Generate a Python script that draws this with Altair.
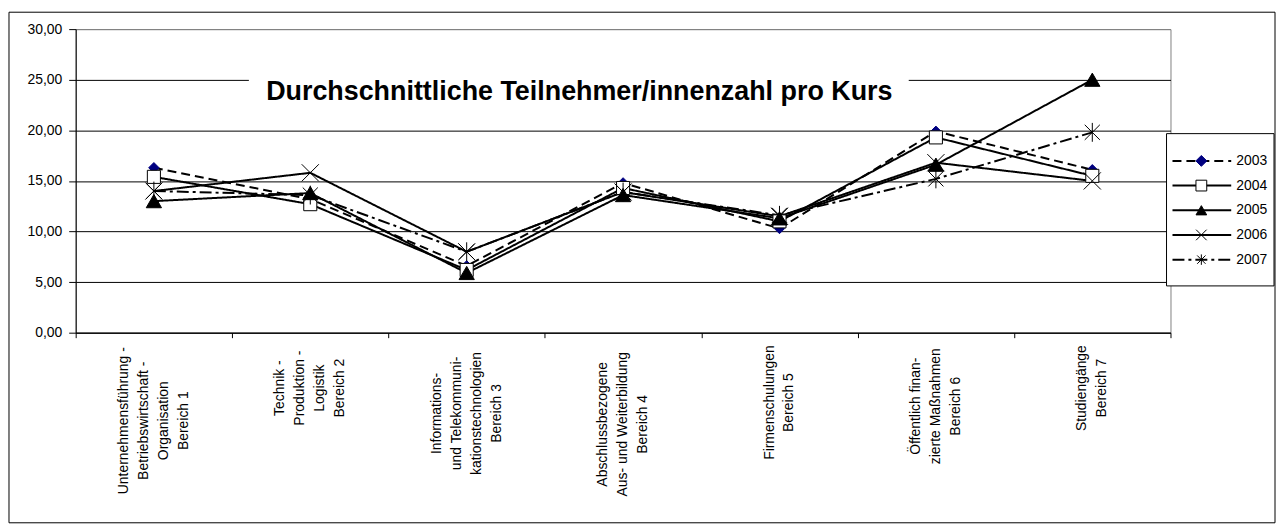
import altair as alt
import pandas as pd

categories = [
    "Unternehmensführung -|Betriebswirtschaft -|Organisation|Bereich 1",
    "Technik -|Produktion -|Logistik|Bereich 2",
    "Informations-|und Telekommuni-|kationstechnologien|Bereich 3",
    "Abschlussbezogene|Aus- und Weiterbildung|Bereich 4",
    "Firmenschulungen|Bereich 5",
    "Öffentlich finan-|zierte Maßnahmen|Bereich 6",
    "Studiengänge|Bereich 7",
]
years = ["2003", "2004", "2005", "2006", "2007"]
v2003 = [16.3, 13.2, 6.6, 14.8, 10.3, 19.9, 16.1]
v2004 = [15.4, 12.7, 6.2, 14.3, 11.0, 19.3, 15.5]
v2005 = [13.0, 13.8, 5.9, 13.6, 11.3, 16.6, 25.0]
v2006 = [14.0, 15.8, 8.0, 13.9, 11.5, 16.8, 15.0]
v2007 = [14.0, 13.6, 8.0, 13.9, 11.6, 15.2, 19.8]
y_ticks = [0, 5, 10, 15, 20, 25, 30]
title_text = "Durchschnittliche Teilnehmer/innenzahl pro Kurs"

series = [v2003, v2004, v2005, v2006, v2007]
rows = []
for yr, vals in zip(years, series):
    for i, (c, v) in enumerate(zip(categories, vals)):
        rows.append({"year": yr, "cat": c, "value": v, "idx": i})
df = pd.DataFrame(rows)
cat_df = pd.DataFrame({"cat": categories})
cat_df["maxlen"] = [max(len(s) for s in c.split("|")) for c in categories]
leg_df = pd.DataFrame({"year": years})
one = pd.DataFrame({"t": [title_text]})

FONT = "Liberation Sans"

dash_scale = alt.Scale(domain=years, range=[[9, 5], [1, 0], [1, 0], [1, 0], [12, 4, 3, 4]])
width_scale = alt.Scale(domain=years, range=[2, 2, 1, 2, 2])
shape_scale = alt.Scale(
    domain=years,
    range=[
        "diamond",
        "square",
        "triangle-up",
        "M-1,-1L1,1M-1,1L1,-1",
        "M0,-1L0,1M-0.8,-0.8L0.8,0.8M-0.8,0.8L0.8,-0.8",
    ],
)
fill_scale = alt.Scale(domain=years, range=["#000080", "white", "black", "transparent", "transparent"])
stroke_scale = alt.Scale(domain=years, range=["#000080", "black", "black", "black", "black"])

x_scale = alt.Scale(type="band", domain=categories, paddingInner=0, paddingOuter=0)
x_enc = alt.X(
    "cat:N",
    sort=categories,
    scale=x_scale,
    axis=alt.Axis(
        title=None,
        labels=False,
        tickBand="extent",
        tickSize=5,
        tickColor="black",
        domainColor="black",
        grid=False,
    ),
)
y_enc = alt.Y(
    "value:Q",
    scale=alt.Scale(domain=[0, 30], nice=False),
    axis=alt.Axis(
        title=None,
        values=y_ticks,
        labelExpr="replace(format(datum.value, '.2f'), '.', ',')",
        tickSize=7,
        tickColor="black",
        domainColor="black",
        grid=True,
        gridColor=alt.condition("datum.value == 30", alt.value("#808080"), alt.value("black")),
        gridOpacity=1,
        labelFont=FONT,
        labelFontSize=14,
        labelPadding=7,
        labelColor="black",
    ),
)

base = alt.Chart(df)

lines = base.mark_line(color="black").encode(
    x=x_enc,
    y=y_enc,
    detail="year:N",
    order="idx:Q",
    strokeDash=alt.StrokeDash("year:O", scale=dash_scale, legend=None),
    strokeWidth=alt.StrokeWidth("year:O", scale=width_scale, legend=None),
)

points = base.mark_point(filled=True, opacity=1, strokeWidth=1).encode(
    x=x_enc,
    y=y_enc,
    shape=alt.Shape("year:N", scale=shape_scale, legend=None),
    fill=alt.Fill("year:N", scale=fill_scale, legend=None),
    stroke=alt.Stroke("year:N", scale=stroke_scale, legend=None),
    size=alt.Size("year:O", scale=alt.Scale(domain=years, range=[110, 360, 200, 180, 320]), legend=None),
)

cat_labels = (
    alt.Chart(cat_df)
    .transform_calculate(lines="split(datum.cat, '|')", n="length(split(datum.cat, '|'))")
    .mark_text(
        font=FONT,
        fontSize=14,
        lineHeight=20,
        angle=270,
        align="center",
        baseline="middle",
        color="black",
        dx=alt.ExprRef("-datum.maxlen * 3.64"),
        dy=alt.ExprRef("-(datum.n - 1) * 10"),
    )
    .encode(x=x_enc, y=alt.value(317), text="lines:N")
)

main = alt.layer(lines, points, cat_labels)

outer = alt.Chart(one).mark_rect(fill=None, stroke="black", strokeWidth=1).encode(
    x=alt.value(-67), x2=alt.value(1205), y=alt.value(-17), y2=alt.value(496)
)
title_bg = alt.Chart(one).mark_rect(fill="white").encode(
    x=alt.value(174), x2=alt.value(837), y=alt.value(40), y2=alt.value(88)
)
title = alt.Chart(one).mark_text(
    font=FONT, fontSize=27, fontWeight="bold", color="black", align="center", baseline="middle"
).encode(x=alt.value(506), y=alt.value(63), text="t:N")

leg_y = alt.Y("year:N", scale=alt.Scale(domain=years, range=[120, 244]), axis=None)
leg_box = alt.Chart(one).mark_rect(fill="white", stroke="black", strokeWidth=1).encode(
    x=alt.value(1096), x2=alt.value(1204), y=alt.value(105), y2=alt.value(258)
)
leg_rules = alt.Chart(leg_df).mark_rule(color="black").encode(
    x=alt.value(1102),
    x2=alt.value(1161),
    y=leg_y,
    strokeDash=alt.StrokeDash("year:O", scale=dash_scale, legend=None),
    strokeWidth=alt.StrokeWidth("year:O", scale=width_scale, legend=None),
)
leg_pts = alt.Chart(leg_df).mark_point(filled=True, opacity=1, strokeWidth=1).encode(
    x=alt.value(1131),
    y=leg_y,
    shape=alt.Shape("year:N", scale=shape_scale, legend=None),
    fill=alt.Fill("year:N", scale=fill_scale, legend=None),
    stroke=alt.Stroke("year:N", scale=stroke_scale, legend=None),
    size=alt.Size("year:O", scale=alt.Scale(domain=years, range=[120, 110, 170, 90, 110]), legend=None),
)
leg_text = alt.Chart(leg_df).mark_text(
    font=FONT, fontSize=14, align="left", baseline="middle", color="black"
).encode(x=alt.value(1166), y=leg_y, text="year:N")

legend = alt.layer(leg_box, leg_rules, leg_pts, leg_text)

chart = (
    alt.layer(outer, title_bg, title, main, legend)
    .resolve_scale(y="independent", size="independent")
    .properties(
        width=1100,
        height=305,
        autosize=alt.AutoSizeParams(type="none"),
        padding={"left": 68, "top": 20, "right": 106, "bottom": 192},
        background="white",
    )
    .configure_view(stroke="#808080", strokeWidth=1)
)

chart.save("out.html", embed_options={"renderer": "svg", "actions": False})
